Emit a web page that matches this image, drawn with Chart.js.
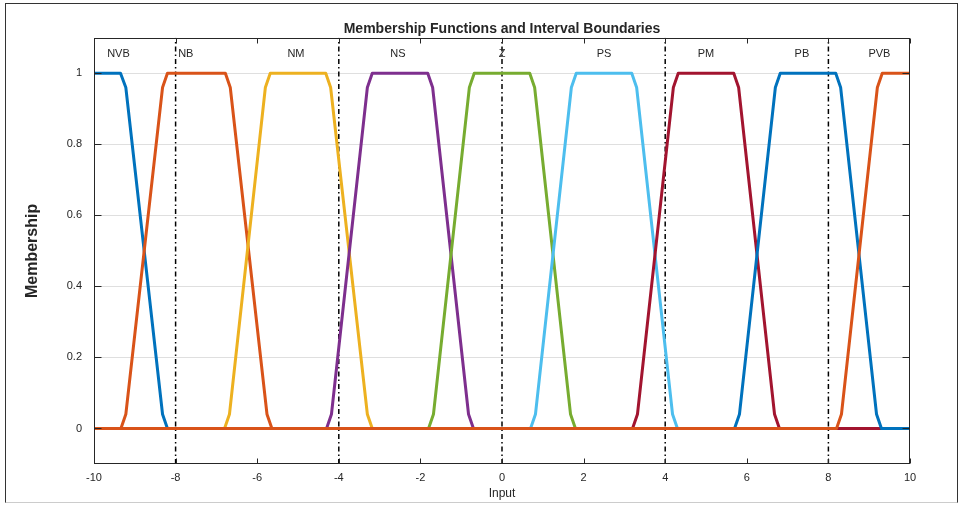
<!DOCTYPE html>
<html>
<head>
<meta charset="utf-8">
<script src="https://cdn.jsdelivr.net/npm/chart.js@4.4.1/dist/chart.umd.min.js"></script>
<style>
  html, body { margin: 0; padding: 0; background: #fff; }
  #wrap { position: relative; width: 961px; height: 506px; }
  #frame {
    position: absolute; left: 5px; top: 3px; width: 951px; height: 498px;
    border: 1px solid #333; border-bottom-color: #ccc; pointer-events: none;
  }
</style>
</head>
<body>
<div id="wrap">
  <canvas id="mf" width="961" height="506"></canvas>
  <div id="frame"></div>
</div>
<script>
// membership functions, [input, degree]
const mf1 = [[-10, 1], [-9.35, 1], [-9.22, 0.96], [-8.32, 0.04], [-8.2, 0], [10, 0]];
const mf2 = [[-10, 0], [-9.34, 0], [-9.22, 0.04], [-8.32, 0.96], [-8.2, 1], [-6.78, 1], [-6.66, 0.96], [-5.76, 0.04], [-5.64, 0], [10, 0]];
const mf3 = [[-10, 0], [-6.8, 0], [-6.68, 0.04], [-5.8, 0.96], [-5.68, 1], [-4.32, 1], [-4.2, 0.96], [-3.3, 0.04], [-3.18, 0], [10, 0]];
const mf4 = [[-10, 0], [-4.3, 0], [-4.18, 0.04], [-3.3, 0.96], [-3.18, 1], [-1.82, 1], [-1.7, 0.96], [-0.82, 0.04], [-0.7, 0], [10, 0]];
const mf5 = [[-10, 0], [-1.8, 0], [-1.68, 0.04], [-0.8, 0.96], [-0.68, 1], [0.68, 1], [0.8, 0.96], [1.68, 0.04], [1.8, 0], [10, 0]];
const mf6 = [[-10, 0], [0.7, 0], [0.82, 0.04], [1.7, 0.96], [1.82, 1], [3.18, 1], [3.3, 0.96], [4.18, 0.04], [4.3, 0], [10, 0]];
const mf7 = [[-10, 0], [3.2, 0], [3.32, 0.04], [4.2, 0.96], [4.32, 1], [5.68, 1], [5.8, 0.96], [6.68, 0.04], [6.8, 0], [10, 0]];
const mf8 = [[-10, 0], [5.7, 0], [5.82, 0.04], [6.7, 0.96], [6.82, 1], [8.18, 1], [8.3, 0.96], [9.18, 0.04], [9.3, 0], [10, 0]];
const mf9 = [[-10, 0], [8.2, 0], [8.32, 0.04], [9.2, 0.96], [9.32, 1], [10, 1]];

const mfLabels = ["NVB", "NB", "NM", "NS", "Z", "PS", "PM", "PB", "PVB"];
const mfLabelX = [-9.4, -7.75, -5.05, -2.55, 0, 2.5, 5, 7.35, 9.25];
const mfLabelY = 1.055;

const intervalBounds = [-8, -4, 0, 4, 8];
const yTicks = [0, 0.2, 0.4, 0.6, 0.8, 1];

const mfColors = ["#0072BD", "#D95319", "#EDB120", "#7E2F8E", "#77AC30",
                  "#4DBEEE", "#A2142F", "#0072BD", "#D95319"];
const ink = "#262626";

Chart.defaults.font.family = '"Liberation Sans", Helvetica, Arial, sans-serif';
Chart.defaults.color = ink;

const allMfs = [mf1, mf2, mf3, mf4, mf5, mf6, mf7, mf8, mf9];

const datasets = allMfs.map((pts, i) => ({
  data: pts.map(([x, y]) => ({ x, y })),
  borderColor: mfColors[i],
  borderWidth: 3,
  borderJoinStyle: "round",
  pointRadius: 0,
  tension: 0,
  order: 20 - i,
}));

intervalBounds.forEach((b) => {
  datasets.push({
    data: [{ x: b, y: -0.1 }, { x: b, y: 1.1 }],
    borderColor: "#000",
    borderWidth: 1.5,
    borderDash: [5, 3, 1.5, 3],
    pointRadius: 0,
    order: 100,
  });
});

// box round the axes with inward ticks, like the original
const boxTicks = {
  id: "boxTicks",
  afterDatasetsDraw(chart) {
    const { ctx, chartArea: a, scales: { x, y } } = chart;
    ctx.save();
    ctx.strokeStyle = ink;
    ctx.lineWidth = 1;
    const l = Math.round(a.left) + 0.5, r = Math.round(a.right) - 0.5;
    const t = Math.round(a.top) + 0.5, b = Math.round(a.bottom) - 0.5;
    ctx.strokeRect(l, t, r - l, b - t);
    ctx.beginPath();
    x.ticks.forEach((tk) => {
      const px = Math.round(x.getPixelForValue(tk.value)) + 0.5;
      ctx.moveTo(px, b); ctx.lineTo(px, b - 5);
      ctx.moveTo(px, t); ctx.lineTo(px, t + 5);
    });
    y.ticks.forEach((tk) => {
      const py = Math.round(y.getPixelForValue(tk.value)) + 0.5;
      ctx.moveTo(l, py); ctx.lineTo(l + 7, py);
      ctx.moveTo(r, py); ctx.lineTo(r - 7, py);
    });
    ctx.stroke();

    ctx.fillStyle = ink;
    ctx.font = '11px "Liberation Sans", Helvetica, Arial, sans-serif';
    ctx.textAlign = "center";
    ctx.textBaseline = "middle";
    mfLabels.forEach((txt, i) => {
      ctx.fillText(txt, x.getPixelForValue(mfLabelX[i]), y.getPixelForValue(mfLabelY));
    });
    ctx.restore();
  },
};

new Chart(document.getElementById("mf"), {
  type: "line",
  data: { datasets },
  plugins: [boxTicks],
  options: {
    responsive: false,
    animation: false,
    layout: { padding: { left: 6, right: 51, top: 0, bottom: 0 } },
    plugins: {
      legend: { display: false },
      tooltip: { enabled: false },
      title: {
        display: true,
        text: "Membership Functions and Interval Boundaries",
        fullSize: false,
        color: ink,
        font: { size: 14, weight: "bold", lineHeight: 1.2 },
        padding: { top: 21, bottom: 0 },
      },
    },
    scales: {
      x: {
        type: "linear",
        min: -10,
        max: 10,
        ticks: { stepSize: 2, padding: 7, font: { size: 11 }, color: ink },
        grid: { display: false, drawTicks: false },
        border: { display: false },
        title: {
          display: true,
          text: "Input",
          color: ink,
          font: { size: 12, lineHeight: 1.2 },
          padding: { top: 0, bottom: 5 },
        },
        afterFit: (s) => { s.height = 42; },
      },
      y: {
        min: -0.1,
        max: 1.1,
        afterBuildTicks: (s) => { s.ticks = yTicks.map((v) => ({ value: v })); },
        ticks: {
          padding: 12,
          font: { size: 11 },
          color: ink,
          callback: (v) => String(+Number(v).toFixed(1)),
        },
        grid: { color: "#dfdfdf", drawTicks: false },
        border: { display: false },
        title: {
          display: true,
          text: "Membership",
          color: ink,
          font: { size: 16, weight: "bold", lineHeight: 1.2 },
          padding: { top: 17, bottom: 0 },
        },
        afterFit: (s) => { s.width = 88; },
      },
    },
  },
});
</script>
</body>
</html>
